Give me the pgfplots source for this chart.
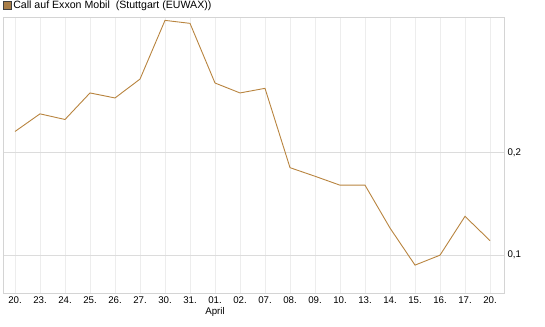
\documentclass[border=0pt]{standalone}
\usepackage{fontspec}
\setmainfont{Liberation Sans}
\usepackage{pgfplots}
\pgfplotsset{compat=1.18}
\definecolor{linec}{HTML}{B8843F}
\definecolor{legfill}{HTML}{A97E48}
\definecolor{framec}{HTML}{D4D4D4}
\definecolor{hgrid}{HTML}{DCDCDC}
\definecolor{vgrid}{HTML}{EDEDED}
\begin{document}
\begin{tikzpicture}
\path[use as bounding box] (0,0) rectangle (545bp,327bp);
\begin{axis}[
  at={(3bp,34bp)}, anchor=south west,
  scale only axis, width=501bp, height=276bp,
  xmin=-0.48, xmax=19.56, ymin=0.0631, ymax=0.3324,
  xtick={0,...,19},
  xticklabels={20.,23.,24.,25.,26.,27.,30.,31.,{01.\\April},02.,07.,08.,09.,10.,13.,14.,15.,16.,17.,20.},
  xticklabel style={align=center, font=\fontsize{9.7bp}{11.5bp}\selectfont, text depth=0pt},
  ytick={0.1,0.2}, yticklabels={{0,1},{0,2}},
  yticklabel pos=right,
  yticklabel style={font=\fontsize{9.7bp}{11.5bp}\selectfont},
  axis line style={color=framec, line width=0.9bp},
  tick style={draw=none},
  xmajorgrids, ymajorgrids,
  x grid style={color=vgrid, line width=0.9bp},
  y grid style={color=hgrid, line width=0.9bp},
  legend style={at={(0,1)}, anchor=south west, draw=none, fill=none,
    font=\fontsize{10.6bp}{12bp}\selectfont, inner sep=0pt, xshift=0bp, yshift=5bp},
  legend image code/.code={\draw[fill=legfill, draw=black!75, line width=0.6bp] (0bp,-3.75bp) rectangle (7.5bp,3.75bp);},
]
\addplot[color=linec, line width=0.9bp, mark=none] coordinates {
(0,0.2207) (1,0.2379) (2,0.2324) (3,0.2583) (4,0.2534) (5,0.2718)
(6,0.3291) (7,0.3262) (8,0.2680) (9,0.2583) (10,0.2628) (11,0.1854)
(12,0.1770) (13,0.1683) (14,0.1683) (15,0.1265) (16,0.0903) (17,0.1000)
(18,0.1379) (19,0.1142)
};
\addlegendentry{Call auf Exxon Mobil\ \ (Stuttgart (EUWAX))}
\end{axis}
\end{tikzpicture}
\end{document}
